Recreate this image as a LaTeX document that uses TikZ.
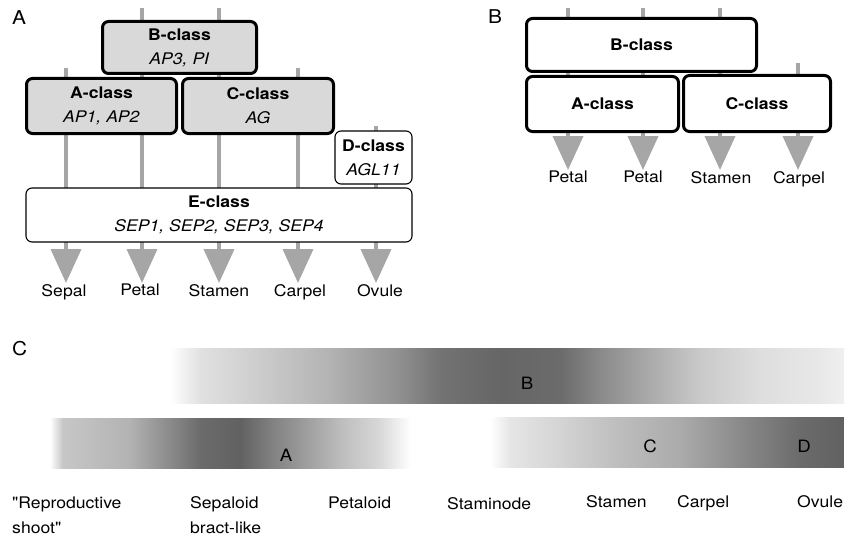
\documentclass[tikz,border=0pt]{standalone}
\usepackage{fontspec}
\setmainfont{TeX Gyre Heros}[FakeStretch=1.1]
\newfontfamily\plainquote{TeX Gyre Heros}[FakeStretch=1.1]
\usetikzlibrary{arrows.meta}
\newcommand{\greyband}[3]{%
  \foreach \x/\c [remember=\x as \xp (initially 0), remember=\c as \cp (initially 0)] in {#3}
    {\ifnum\xp>0 \shade[left color=black!\cp,right color=black!\c] (\xp,#1) rectangle ({\x+0.6},#2);\fi}}

\begin{document}
\begin{tikzpicture}[x=1pt,y=-1pt,font=\fontsize{16}{24}\selectfont,
  stem/.style={line width=4pt,black!35,-{Triangle[width=30pt,length=34pt]}},
  classbox/.style={draw,line width=3pt,rounded corners=6pt,align=center,inner sep=0pt},
  thinbox/.style={draw,line width=1.1pt,rounded corners=6pt,fill=white,align=center,inner sep=0pt},
  flowlab/.style={anchor=north,inner sep=1pt,font=\fontsize{16}{19}\selectfont},
  panel/.style={anchor=north west,inner sep=0pt,font=\fontsize{19}{22}\selectfont},
  bandlab/.style={font=\fontsize{17}{20}\selectfont},
  organ/.style={anchor=base west,inner sep=0pt,align=left,font=\fontsize{16}{25}\selectfont}]
\useasboundingbox (0,0) rectangle (844,535);

% panel A
\begin{scope}
\node[panel] (pA) at (12,10) {A};
\coordinate (tSe) at (66,68);
\coordinate (tPe) at (142,8);
\coordinate (tSt) at (219,8);
\coordinate (tCa) at (298,68);
\coordinate (tOv) at (376,126);
\node[flowlab] (sepal) at (64,283) {Sepal};
\node[flowlab] (petal) at (140,283) {Petal};
\node[flowlab] (stamen) at (219,283) {Stamen};
\node[flowlab] (carpel) at (300,283) {Carpel};
\node[flowlab] (ovule) at (380,283) {Ovule};
\foreach \t/\l in {tSe/sepal,tPe/petal,tSt/stamen,tCa/carpel,tOv/ovule}
  \draw[stem] (\t) -- (\t|-\l.north);
\node[classbox,fill=black!15,minimum width=154,minimum height=52] (Bcl) at (179.5,47.5)
  {\textbf{B-class}\\\textit{AP3, PI}};
\node[classbox,fill=black!15,minimum width=150,minimum height=55] (Acl) at (101.5,106)
  {\textbf{A-class}\\\textit{AP1, AP2}};
\node[classbox,fill=black!15,minimum width=151,minimum height=55] (Ccl) at (258,106)
  {\textbf{C-class}\\\textit{AG}};
\node[thinbox,minimum width=77,minimum height=53] (Dcl) at (373.5,157.5)
  {\textbf{D-class}\\\textit{AGL11}};
\node[thinbox,minimum width=386,minimum height=54] (Ecl) at (219,215)
  {\textbf{E-class}\\\textit{SEP1, SEP2, SEP3, SEP4}};
\end{scope}

% panel B
\begin{scope}
\node[panel] (pB) at (488,9) {B};
\coordinate (uPe1) at (568,8);
\coordinate (uPe2) at (643,8);
\coordinate (uSt) at (720,8);
\coordinate (uCa) at (798,63);
\node[flowlab] (petalb) at (568,170) {Petal};
\node[flowlab] (petalc) at (643,170) {Petal};
\node[flowlab] (stamenb) at (721,170) {Stamen};
\node[flowlab] (carpelb) at (799,170) {Carpel};
\foreach \t/\l in {uPe1/petalb,uPe2/petalc,uSt/stamenb,uCa/carpelb}
  \draw[stem] (\t) -- (\t|-\l.north);
\node[classbox,fill=white,minimum width=230,minimum height=53] (Bcb) at (641.5,45) {\textbf{B-class}};
\node[classbox,fill=white,minimum width=152,minimum height=55] (Acb) at (602.5,104) {\textbf{A-class}};
\node[classbox,fill=white,minimum width=147,minimum height=56] (Ccb) at (757,103.5) {\textbf{C-class}};
\end{scope}

% panel C
\begin{scope}
\node[panel] (pC) at (12,341) {C};
\greyband{348}{403}{170/0,200/12,260/20,330/30,400/44,440/55,500/60,560/58,600/46,
  650/33,700/21,760/13,820/9,844/6}
\greyband{418}{468}{50/0,62/22,130/30,170/46,200/58,240/62,270/50,300/40,340/26,
  380/15,410/0}
\greyband{417}{467}{490/0,510/10,560/17,620/26,680/33,740/46,800/58,844/62}
\node[bandlab] (lB) at (527,383) {B};
\node[bandlab] (lA) at (286,455) {A};
\node[bandlab] (lC) at (650,446) {C};
\node[bandlab] (lD) at (804,446) {D};
% two-line labels sit on the baseline of their last line
\node[organ] (repro) at (12,533) {{\plainquote"}Reproductive\\shoot{\plainquote"}};
\node[organ] (sepaloid) at (190,533) {Sepaloid\\bract-like};
\node[organ] (petaloid) at (328,508) {Petaloid};
\node[organ] (staminode) at (447,509) {Staminode};
\node[organ] (stamenc) at (586,507) {Stamen};
\node[organ] (carpelc) at (677,507) {Carpel};
\node[organ] (ovulec) at (797,507) {Ovule};
\end{scope}
\end{tikzpicture}
\end{document}
